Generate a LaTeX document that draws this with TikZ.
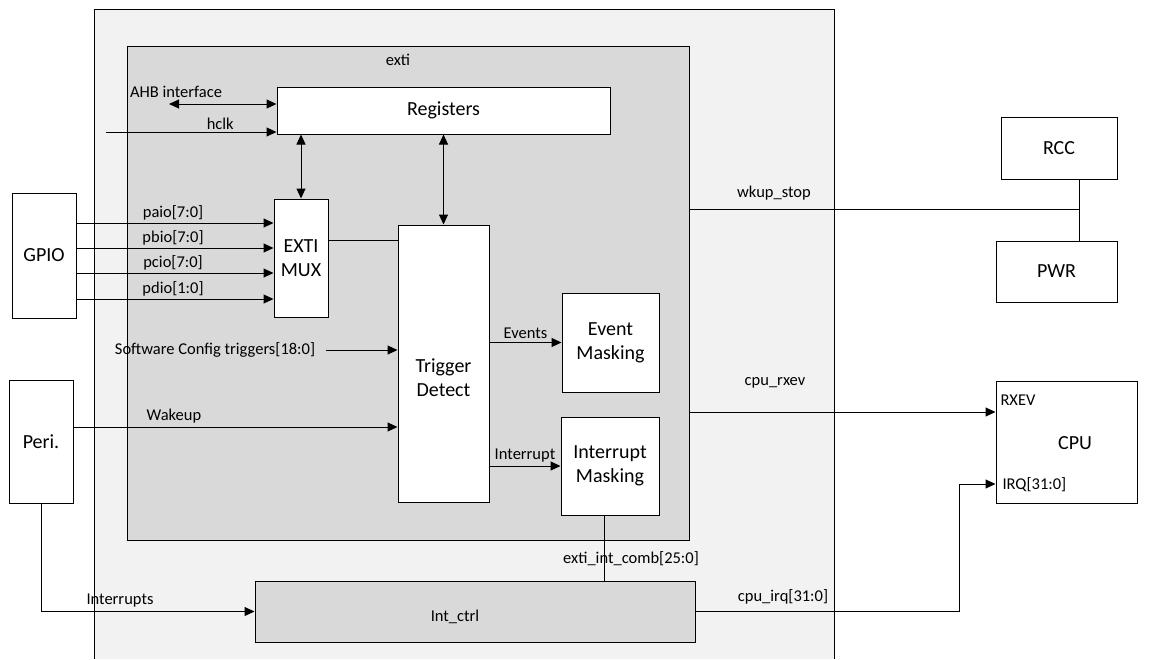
\documentclass[tikz,border=0pt]{standalone}
\usepackage{fontspec}
\setmainfont{Carlito}
\usetikzlibrary{arrows.meta,positioning}
\definecolor{chipgray}{RGB}{242,242,242}
\definecolor{extigray}{RGB}{217,217,217}

\begin{document}
\begin{tikzpicture}[x=1pt,y=-1pt,line width=1pt,
	>={Triangle[length=10pt,width=9pt]},
	blk/.style={draw,fill=white,inner sep=0pt,align=center,font=\fontsize{20}{24}\selectfont},
	lbl/.style={inner sep=0pt,font=\fontsize{16.5}{19}\selectfont}]
\useasboundingbox (0,0) rectangle (1151,659);
% chip area
\fill[chipgray] (94,9) rectangle (834,659);
\draw (94,659) -- (94,9) -- (834,9) -- (834,659);
% exti block
\node[draw,fill=extigray,minimum width=562pt,minimum height=494pt] (exti) at (408,293) {};
\node[lbl] (extilbl) at (398,60) {exti};
\node[blk,minimum width=333pt,minimum height=47pt] (regs) at (443.5,110.5) {Registers};
\node[blk,minimum width=54pt,minimum height=118pt] (mux) at (301,258) {EXTI\\MUX};
\node[blk,minimum width=91pt,minimum height=277pt] (trig) at (443.5,363.5) {};
\node[inner sep=0pt,align=center,font=\fontsize{20}{24}\selectfont] (triglbl) at (443.5,378) {Trigger\\Detect};
\node[blk,minimum width=97pt,minimum height=99pt] (evm) at (610.5,342.5) {Event\\Masking};
\node[blk,minimum width=98pt,minimum height=98pt] (irm) at (610,466) {Interrupt\\Masking};
% outside blocks
\node[blk,minimum width=64pt,minimum height=125pt] (gpio) at (44,255.5) {GPIO};
\node[blk,minimum width=64pt,minimum height=123pt] (peri) at (41,441.5) {Peri.};
\node[blk,fill=extigray,minimum width=440pt,minimum height=61pt] (intc) at (475,611.5) {};
\node[lbl] (intclbl) at (455,617) {Int\_ctrl};
\node[blk,minimum width=116pt,minimum height=62pt] (rcc) at (1059,148) {RCC};
\node[blk,minimum width=121pt,minimum height=61pt] (pwr) at (1056.5,271.5) {PWR};
\node[blk,minimum width=141pt,minimum height=122pt] (cpu) at (1066.5,442) {};
\node[inner sep=0pt,font=\fontsize{20}{24}\selectfont] (cpulbl) at (1075,443) {CPU};
\node[lbl,anchor=west] (rxevlbl) at (1000,400) {RXEV};
\node[lbl,anchor=west] (irqlbl) at (1002,485) {IRQ[31:0]};

% bus interface
\coordinate (ahb) at (169,104);
\coordinate (hclkin) at (106,132);
\draw[<->] (ahb) -- (regs.west |- ahb);
\node[lbl] (ahblbl) at (176,92) {AHB interface};
\draw[->] (hclkin) -- (regs.west |- hclkin) node[lbl,above=2pt,pos=0.67] {hclk};
\draw[<->] (regs.south -| mux) -- (mux.north);
\draw[<->] (regs.south) -- (trig.north);
\draw (mux.east |- 0,240) -- (trig.west |- 0,240);

% gpio ports
\foreach \y/\t in {223/paio[7:0],248/pbio[7:0],273/pcio[7:0],299/pdio[1:0]}
	\draw[->] (gpio.east |- 0,\y) -- (mux.west |- 0,\y) node[lbl,above=2pt,pos=0.49] {\t};

% triggers
\node[lbl] (swlbl) at (215,350) {Software Config triggers[18:0]};
\draw[->] ([xshift=10pt]swlbl.east) -- (trig.west |- swlbl.east);
\draw[->] (peri.east |- 0,427) -- (trig.west |- 0,427) node[lbl,above=3pt,pos=0.31] {Wakeup};
\draw[->] (trig.east |- evm.west) -- (evm.west) node[lbl,above=3pt,midway] {Events};
\draw[->] (trig.east |- irm.west) -- (irm.west) node[lbl,above=3pt,midway] {Interrupt};

% interrupts
\draw[->] (peri.south) |- (intc.west) node[lbl,above=4pt,pos=0.685] {Interrupts};
\draw ([xshift=-6pt]irm.south) -- ([xshift=-6pt]irm.south |- intc.north);
\node[lbl] (comblbl) at (631,559) {exti\_int\_comb[25:0]};

% outputs
\coordinate (wkj) at (1079,209);
\draw (exti.east |- wkj) -- (wkj);
\draw (wkj |- rcc.south) -- (wkj |- pwr.north);
\node[lbl] (wkuplbl) at (774,193) {wkup\_stop};
\draw[->] (exti.east |- 0,412) -- (cpu.west |- 0,412);
\node[lbl] (rxevout) at (775,383) {cpu\_rxev};
\coordinate (irqin) at (cpu.west |- 0,484);
\draw[->] (intc.east) -- (intc.east -| 959,0) |- (irqin);
\node[lbl] (irqout) at (783,597) {cpu\_irq[31:0]};
\end{tikzpicture}
\end{document}
